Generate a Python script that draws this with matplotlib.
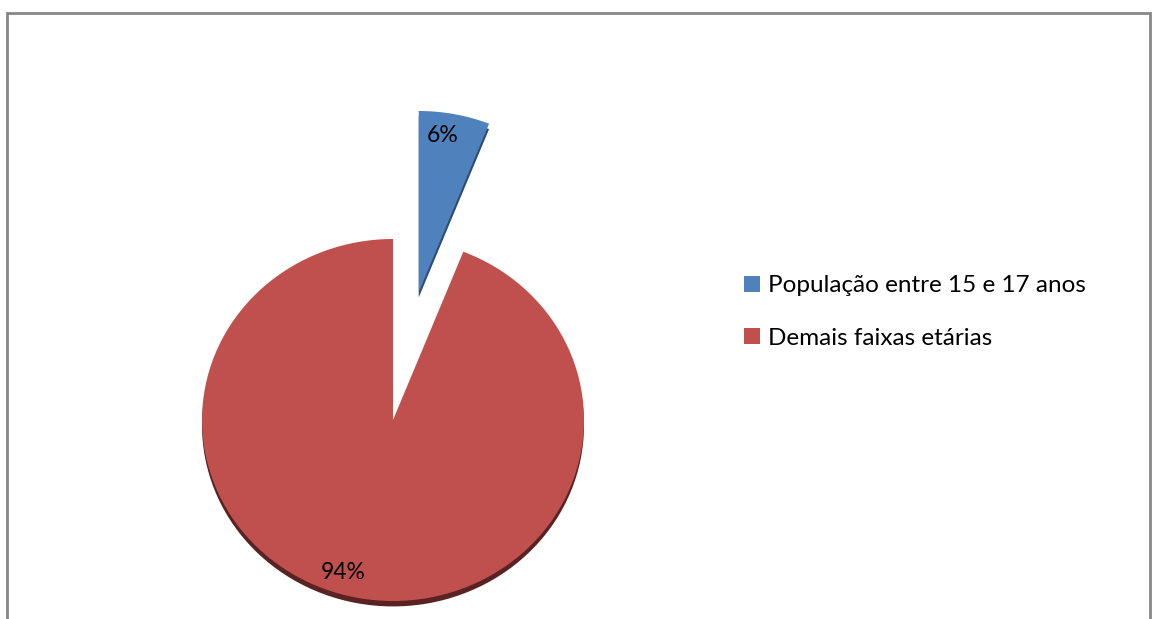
import matplotlib
matplotlib.use("Agg")
import matplotlib.pyplot as plt
from matplotlib.patches import Rectangle

labels = ["População entre 15 e 17 anos", "Demais faixas etárias"]
values = [6, 94]
colors = ["#4F81BD", "#C0504D"]
shadow = ["#2f4d73", "#5a2222"]

plt.rcParams['font.family'] = ['Lato', 'DejaVu Sans']

W, H = 1156, 619
fig = plt.figure(figsize=(W / 100, H / 100), dpi=100)

# chart frame
fig.patches.append(Rectangle((7 / W, -0.05), (1150 - 7) / W, (H - 13) / H + 0.05,
                             transform=fig.transFigure, fill=False,
                             edgecolor="#878787", linewidth=2))

# pie axes: box around the pie (slightly flattened like the 3d look)
cx, cy, rx, ry = 393, 420, 191, 181
ax = fig.add_axes([(cx - rx) / W, (H - cy - ry) / H, 2 * rx / W, 2 * ry / H])
ax.axis('off')

explode = [0.72, 0]

# dark rim at the bottom
sh, _ = ax.pie(values, colors=shadow, startangle=90, counterclock=False,
               explode=explode, center=(0, -0.03),
               wedgeprops=dict(linewidth=0))
for w in sh:
    w.set_clip_on(False)

wedges, texts, autotexts = ax.pie(values, colors=colors, startangle=90,
                                  counterclock=False, explode=explode,
                                  autopct='%1.0f%%', pctdistance=0.9,
                                  textprops=dict(fontsize=16.5, color="black"),
                                  wedgeprops=dict(linewidth=0))
for w in wedges:
    w.set_clip_on(False)
for t in autotexts:
    t.set_clip_on(False)
autotexts[0].set_position((0.26, 1.57))
autotexts[1].set_position((-0.26, -0.84))

ax.set_xlim(-1, 1)
ax.set_ylim(-1, 1)
ax.set_aspect('auto')

leg = fig.legend(wedges, labels, loc='center left',
                 bbox_to_anchor=(722 / W, 1 - 312 / H),
                 frameon=False, fontsize=17.5, handlelength=0.65,
                 handleheight=0.65, handletextpad=0.35, labelspacing=1.3)

fig.savefig("out.png", dpi=100)
